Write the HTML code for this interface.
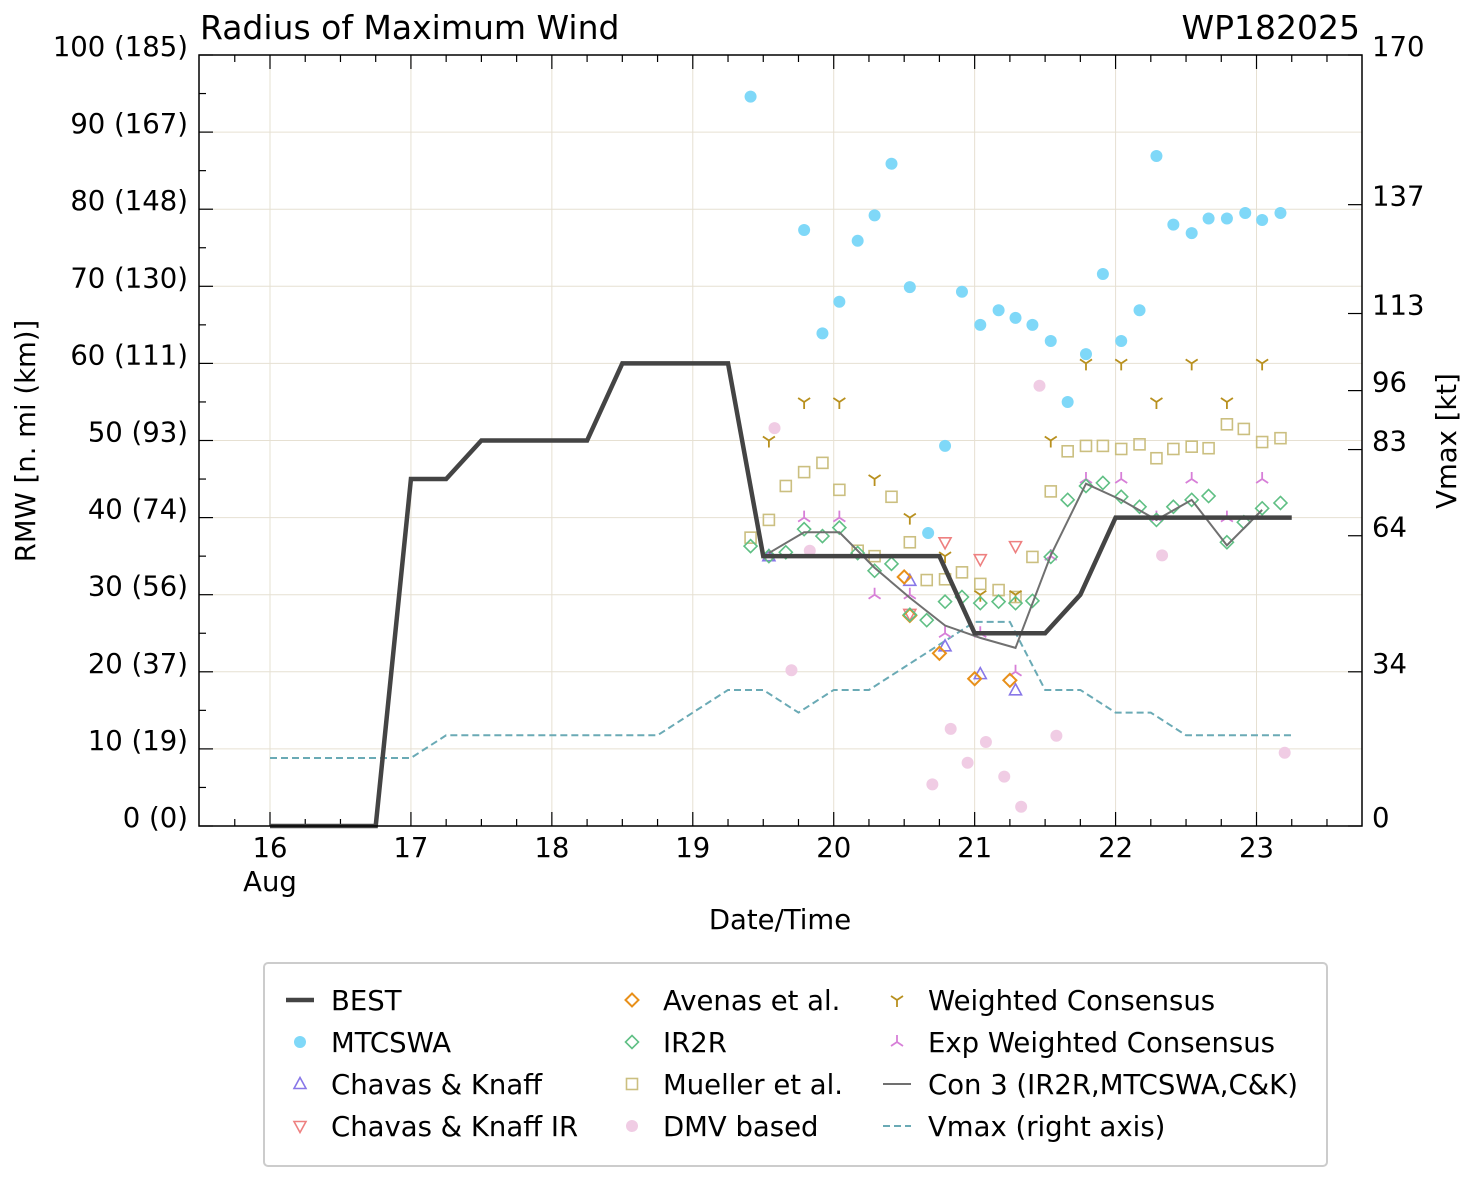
<!DOCTYPE html>
<html><head><meta charset="utf-8"><style>
body{margin:0;background:#fff}
svg{display:block;font-family:"DejaVu Sans","Liberation Sans",sans-serif}
</style></head><body>
<svg id="c" width="1477" height="1180" xmlns="http://www.w3.org/2000/svg"></svg>
<script>
const bestT=[16,16.75,17,17.25,17.5,18.25,18.5,19.25,19.5,20.75,21,21.5,21.75,22,23.25];
const bestV=[0,0,45,45,50,50,60,60,35,35,25,25,30,40,40];
const vmaxT=[16,17,17.25,18.75,19.25,19.5,19.75,20,20.25,20.5,20.75,21,21.25,21.5,21.75,22,22.25,22.5,23.25];
const vmaxV=[15,15,20,20,30,30,25,30,30,35,40,45,45,30,30,25,25,20,20];
const mtT=[19.41,19.79,19.92,20.04,20.17,20.29,20.41,20.54,20.67,20.79,20.91,21.04,21.17,21.29,21.41,21.54,21.66,21.79,21.91,22.04,22.17,22.29,22.41,22.54,22.66,22.79,22.92,23.04,23.17];
const mtV=[94.6,77.3,63.9,68.0,75.9,79.2,85.9,69.9,38.0,49.3,69.3,65.0,66.9,65.9,65.0,62.9,55.0,61.2,71.6,62.9,66.9,86.9,78.0,76.9,78.8,78.8,79.5,78.6,79.5];
const ckT=[19.54,20.54,20.79,21.04,21.29];
const ckV=[35,31.8,23.3,19.7,17.6];
const ckirT=[20.54,20.79,21.04,21.29];
const ckirV=[27.5,36.8,34.6,36.3];
const avT=[20.5,20.54,20.75,21.0,21.25];
const avV=[32.3,27.3,22.4,19.1,18.9];
const irT=[19.41,19.54,19.66,19.79,19.92,20.04,20.17,20.29,20.41,20.54,20.66,20.79,20.91,21.04,21.17,21.29,21.41,21.54,21.66,21.79,21.91,22.04,22.17,22.29,22.41,22.54,22.66,22.79,22.91,23.04,23.17];
const irV=[36.3,35.0,35.5,38.5,37.6,38.7,35.4,33.1,34.0,27.4,26.7,29.1,29.7,28.9,29.1,28.9,29.2,34.9,42.3,44.1,44.5,42.7,41.4,39.7,41.4,42.3,42.8,36.8,39.4,41.2,41.9];
const muV=[37.4,39.7,44.1,45.9,47.1,43.6,35.7,35.0,42.7,36.8,31.9,32.0,32.9,31.4,30.6,29.7,34.9,43.4,48.6,49.3,49.3,48.9,49.5,47.7,48.9,49.2,49.0,52.1,51.5,49.8,50.3];
const dmvT=[19.58,19.7,19.83,20.7,20.83,20.95,21.08,21.21,21.33,21.46,21.58,22.33,23.2];
const dmvV=[51.6,20.2,35.7,5.4,12.6,8.2,10.9,6.4,2.5,57.1,11.7,35.1,9.5];
const wcT=[19.54,19.79,20.04,20.29,20.54,20.79,21.04,21.29,21.54,21.79,22.04,22.29,22.54,22.79,23.04];
const wcV=[50,55,55,45,40,35,30,30,50,60,60,55,60,55,60];
const ewT=[19.54,19.79,20.04,20.29,20.54,20.79,21.04,21.29,21.54,21.79,22.04,22.29,22.54,22.79,23.04];
const ewV=[35,40,40,30,30,25,25,20,35,45,45,40,45,40,45];
const c3T=[19.54,19.79,20.04,20.29,20.54,20.79,21.04,21.29,21.54,21.79,22.04,22.29,22.54,22.79,23.04];
const c3V=[35.4,38.1,38.1,33.5,29.6,26,24.4,23.1,35.1,44.4,42.3,39.7,42.3,36.4,41];
const xTicks=[16,17,18,19,20,21,22,23];
const yTicks=[0,10,20,30,40,50,60,70,80,90,100];
const yTickLabels=["0 (0)","10 (19)","20 (37)","30 (56)","40 (74)","50 (93)","60 (111)","70 (130)","80 (148)","90 (167)","100 (185)"];
const rTicks=[0,34,64,83,96,113,137,170];

const FS=27.5;
const L=199,R=1362,T=55,B=826;
const X=d=>270+(d-16)*140.93;
const Y=v=>B-(v/100)*(B-T);
const YR=v=>B-(v/170)*(B-T);
const svg=document.getElementById('c');
const NS='http://www.w3.org/2000/svg';
function el(tag,attrs,parent){const e=document.createElementNS(NS,tag);for(const k in attrs)e.setAttribute(k,attrs[k]);(parent||svg).appendChild(e);return e;}
function txt(s,x,y,size,anchor,parent){const e=el('text',{x:x,y:y,'font-size':size,'text-anchor':anchor||'start',fill:'#000'},parent);e.textContent=s;return e;}

const grid=el('g',{});


xTicks.forEach(d=>el('line',{x1:X(d),x2:X(d),y1:T,y2:B,stroke:'#e6e0d2','stroke-width':1},grid));
yTicks.forEach(v=>el('line',{x1:L,x2:R,y1:Y(v),y2:Y(v),stroke:'#e6e0d2','stroke-width':1},grid));

const tk=el('g',{stroke:'#000','stroke-width':1.2});


for(let d=15.75;d<=23.76;d+=0.25){if(X(d)<L||X(d)>R)continue;const maj=Math.abs(d-Math.round(d))<0.01;el('line',{x1:X(d),x2:X(d),y1:B,y2:B-(maj?14:7)},tk);el('line',{x1:X(d),x2:X(d),y1:T,y2:T+(maj?14:7)},tk);}
for(let v=0;v<=100;v+=5){const maj=v%10==0;el('line',{x1:L,x2:L+(maj?14:7),y1:Y(v),y2:Y(v)},tk);}
rTicks.forEach(v=>el('line',{x1:R,x2:R-14,y1:YR(v),y2:YR(v)},tk));

const xl=el('g',{});


xTicks.forEach(d=>txt(String(d),X(d),857,FS,'middle',xl));
txt('Aug',X(16),891,FS,'middle',xl);
const yl=el('g',{});


yTicks.forEach((v,i)=>txt(yTickLabels[i],188,Y(v)+1,FS,'end',yl));
const rl=el('g',{});


rTicks.forEach(v=>{const yy=v==170?56:YR(v)+1;txt(String(v),1372,yy,FS,'start',rl);});

let t=txt('Radius of Maximum Wind',200,39,33);

t=txt('WP182025',1360,39,33,'end');

t=txt('Date/Time',780,929,FS,'middle');

t=txt('RMW [n. mi (km)]',0,0,FS,'middle');t.setAttribute('transform','translate(35,441) rotate(-90)');

t=txt('Vmax [kt]',0,0,FS,'middle');t.setAttribute('transform','translate(1456,441) rotate(-90)');


function poly(T_,V_,f,attrs,name){const p=el('polyline',Object.assign({points:T_.map((d,i)=>X(d)+','+f(V_[i])).join(' '),fill:'none'},attrs));}
function marker(kind,x,y,g){
 if(kind=='circ')el('circle',{cx:x,cy:y,r:6},g);
 else if(kind=='dia')el('polygon',{points:`${x},${y-6.5} ${x+6.5},${y} ${x},${y+6.5} ${x-6.5},${y}`},g);
 else if(kind=='sq')el('rect',{x:x-5.5,y:y-5.5,width:11,height:11},g);
 else if(kind=='tu')el('polygon',{points:`${x},${y-6.5} ${x+6},${y+4.5} ${x-6},${y+4.5}`},g);
 else if(kind=='td')el('polygon',{points:`${x},${y+6.5} ${x+6},${y-4.5} ${x-6},${y-4.5}`},g);
 else if(kind=='y'){el('path',{d:`M${x},${y} V${y+7} M${x},${y} L${x-6},${y-4} M${x},${y} L${x+6},${y-4}`},g);}
 else if(kind=='ly'){el('path',{d:`M${x},${y} V${y-7} M${x},${y} L${x-6},${y+4} M${x},${y} L${x+6},${y+4}`},g);}
}
function scatter(T_,V_,kind,attrs,name){const g=el('g',attrs);T_.forEach((d,i)=>marker(kind,X(d),Y(V_[i]),g));}

poly(vmaxT,vmaxV,YR,{stroke:'#6aaab5','stroke-width':2,'stroke-dasharray':'7,4'},'vmax-line');
scatter(mtT,mtV,'circ',{fill:'#7fd8f8'},'mtcswa-points');
scatter(dmvT,dmvV,'circ',{fill:'#f0cce4'},'dmv-points');
scatter(irT,muV,'sq',{fill:'none',stroke:'#cbbf80','stroke-width':1.6},'mueller-points');
scatter(wcT,wcV,'y',{fill:'none',stroke:'#b8901e','stroke-width':1.8},'weighted-consensus-points');
scatter(ewT,ewV,'ly',{fill:'none',stroke:'#d77fd8','stroke-width':1.8},'exp-weighted-consensus-points');
scatter(ckirT,ckirV,'td',{fill:'none',stroke:'#ee8080','stroke-width':1.6},'ck-ir-points');
scatter(ckT,ckV,'tu',{fill:'none',stroke:'#8877e8','stroke-width':1.6},'ck-points');
scatter(avT,avV,'dia',{fill:'none',stroke:'#e8901a','stroke-width':2},'avenas-points');
scatter(irT,irV,'dia',{fill:'none',stroke:'#5fbf84','stroke-width':1.6},'ir2r-points');
poly(c3T,c3V,Y,{stroke:'#707070','stroke-width':2},'con3-line');
poly(bestT,bestV,Y,{stroke:'#444','stroke-width':4.5},'best-line');

el('rect',{x:L,y:T,width:R-L,height:B-T,fill:'none',stroke:'#000','stroke-width':1.5});

const lg=el('g',{});


el('rect',{x:264,y:963,width:1063,height:203,rx:4,fill:'#fff',stroke:'#ccc','stroke-width':2},lg);
const entries=[
 [300,1000,'line','BEST',{stroke:'#444','stroke-width':4.5}],
 [300,1042,'circ','MTCSWA',{fill:'#7fd8f8'}],
 [300,1084,'tu','Chavas & Knaff',{fill:'none',stroke:'#8877e8','stroke-width':1.6}],
 [300,1126,'td','Chavas & Knaff IR',{fill:'none',stroke:'#ee8080','stroke-width':1.6}],
 [632,1000,'dia','Avenas et al.',{fill:'none',stroke:'#e8901a','stroke-width':2}],
 [632,1042,'dia','IR2R',{fill:'none',stroke:'#5fbf84','stroke-width':1.6}],
 [632,1084,'sq','Mueller et al.',{fill:'none',stroke:'#cbbf80','stroke-width':1.6}],
 [632,1126,'circ','DMV based',{fill:'#f0cce4'}],
 [897,1000,'y','Weighted Consensus',{fill:'none',stroke:'#b8901e','stroke-width':1.8}],
 [897,1042,'ly','Exp Weighted Consensus',{fill:'none',stroke:'#d77fd8','stroke-width':1.8}],
 [897,1084,'line','Con 3 (IR2R,MTCSWA,C&K)',{stroke:'#707070','stroke-width':2}],
 [897,1126,'line','Vmax (right axis)',{stroke:'#6aaab5','stroke-width':2,'stroke-dasharray':'7,4'}]
];
entries.forEach(e=>{
 const g=el('g',e[4],lg);
 
 
 if(e[2]=='line')el('line',{x1:e[0]-14,x2:e[0]+14,y1:e[1],y2:e[1]},g);else marker(e[2],e[0],e[1],g);
 txt(e[3],e[0]+31,e[1]+10,FS,'start',lg);
});
</script>
</body></html>
